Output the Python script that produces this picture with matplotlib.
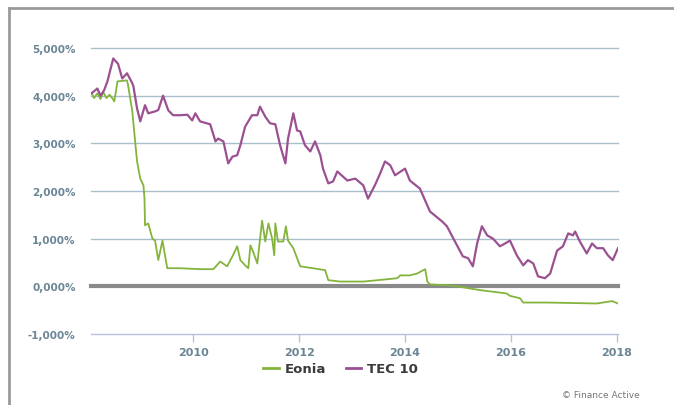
import matplotlib
matplotlib.use("Agg")
import matplotlib.pyplot as plt
from matplotlib.lines import Line2D

# decimal years / rate in %
tec_dates = [
    2008.08, 2008.19, 2008.25, 2008.32, 2008.38, 2008.49, 2008.58, 2008.66,
    2008.75, 2008.85, 2008.87, 2008.94, 2009.00, 2009.09, 2009.15, 2009.28,
    2009.34, 2009.43, 2009.53, 2009.62, 2009.75, 2009.89, 2009.98, 2010.04,
    2010.13, 2010.32, 2010.42, 2010.47, 2010.57, 2010.66, 2010.74, 2010.83,
    2010.89, 2010.98, 2011.11, 2011.21, 2011.26, 2011.36, 2011.45, 2011.55,
    2011.64, 2011.74, 2011.79, 2011.89, 2011.96, 2012.02, 2012.11, 2012.21,
    2012.30, 2012.40, 2012.45, 2012.55, 2012.64, 2012.72, 2012.91, 2013.06,
    2013.21, 2013.30, 2013.43, 2013.53, 2013.62, 2013.72, 2013.81, 2014.00,
    2014.09, 2014.28, 2014.47, 2014.70, 2014.79, 2014.98, 2015.09, 2015.19,
    2015.28, 2015.36, 2015.45, 2015.55, 2015.66, 2015.79, 2015.89, 2015.98,
    2016.11, 2016.23, 2016.32, 2016.42, 2016.51, 2016.64, 2016.74, 2016.87,
    2016.98, 2017.08, 2017.17, 2017.21, 2017.30, 2017.43, 2017.53, 2017.62,
    2017.74, 2017.83, 2017.92, 2018.02,
]
tec_values = [
    4.05, 4.15, 4.00, 4.12, 4.30, 4.78, 4.67, 4.36,
    4.47, 4.26, 4.20, 3.73, 3.46, 3.80, 3.63, 3.67,
    3.70, 4.00, 3.69, 3.59, 3.59, 3.60, 3.48, 3.63,
    3.46, 3.40, 3.04, 3.10, 3.04, 2.58, 2.72, 2.75,
    2.96, 3.35, 3.59, 3.59, 3.77, 3.56, 3.42, 3.40,
    2.96, 2.58, 3.10, 3.63, 3.27, 3.25, 2.96, 2.83,
    3.04, 2.75, 2.47, 2.16, 2.20, 2.41, 2.22, 2.26,
    2.12, 1.84, 2.12, 2.37, 2.62, 2.54, 2.33, 2.47,
    2.22, 2.05, 1.57, 1.36, 1.26, 0.86, 0.63, 0.59,
    0.42, 0.90, 1.26, 1.07, 1.00, 0.84, 0.90, 0.96,
    0.65, 0.44, 0.55, 0.48, 0.21, 0.17, 0.27, 0.75,
    0.84, 1.11, 1.07, 1.15, 0.94, 0.69, 0.90, 0.80,
    0.80, 0.65, 0.55, 0.80,
]

eonia_dates = [
    2008.08, 2008.13, 2008.19, 2008.25, 2008.30, 2008.36, 2008.42, 2008.47,
    2008.51, 2008.57, 2008.75, 2008.77, 2008.85, 2008.91, 2008.94, 2009.00,
    2009.06, 2009.08, 2009.09, 2009.15, 2009.23, 2009.28, 2009.34, 2009.42,
    2009.47, 2009.51, 2009.75, 2010.13, 2010.38, 2010.51, 2010.64, 2010.75,
    2010.83, 2010.89, 2010.98, 2011.04, 2011.08, 2011.13, 2011.21, 2011.30,
    2011.36, 2011.42, 2011.49, 2011.53, 2011.55, 2011.60, 2011.70, 2011.75,
    2011.79, 2011.89, 2012.02, 2012.26, 2012.49, 2012.55, 2012.77, 2013.21,
    2013.49, 2013.85, 2013.91, 2014.09, 2014.23, 2014.38, 2014.42, 2014.47,
    2014.85, 2015.09, 2015.42, 2015.92, 2015.98, 2016.17, 2016.23, 2016.68,
    2017.62, 2017.91, 2018.02,
]
eonia_values = [
    4.05, 3.95, 4.05, 3.93, 4.08, 3.95, 4.02, 3.95,
    3.88, 4.30, 4.32, 4.22, 3.67, 2.96, 2.62, 2.26,
    2.12, 1.84, 1.28, 1.32, 1.00, 0.96, 0.55, 0.96,
    0.63, 0.38, 0.38, 0.36, 0.36, 0.52, 0.42, 0.65,
    0.84, 0.55, 0.44, 0.38, 0.86, 0.73, 0.48, 1.38,
    0.94, 1.32, 1.00, 0.65, 1.32, 0.94, 0.94, 1.26,
    0.96, 0.80, 0.42, 0.38, 0.34, 0.13, 0.10, 0.10,
    0.13, 0.17, 0.23, 0.23, 0.27, 0.36, 0.10, 0.04,
    0.02, -0.02, -0.08, -0.15, -0.20, -0.25, -0.34, -0.34,
    -0.36, -0.31, -0.36,
]

y_ticks = [-1, 0, 1, 2, 3, 4, 5]
y_labels = ["-1,000%", "0,000%", "1,000%", "2,000%", "3,000%", "4,000%", "5,000%"]
x_ticks = [2010, 2012, 2014, 2016, 2018]

TEC_COLOR = "#9b5191"
EONIA_COLOR = "#84b43c"
GRID_COLOR = "#a9bfcc"
LABEL_COLOR = "#6a8595"

fig = plt.figure(figsize=(6.74, 4.06), dpi=100)
ax = fig.add_axes([91 / 674, 1 - 335 / 406, (618 - 91) / 674, (335 - 49) / 406])

for t in y_ticks:
    if t == 0:
        continue
    color = "#b8c2de" if t == -1 else GRID_COLOR
    ax.axhline(t, color=color, lw=1.0, clip_on=False, zorder=1)
ax.axhline(0, color="#8a8a8a", lw=3.0, clip_on=False, zorder=1)

ax.plot(eonia_dates, eonia_values, color=EONIA_COLOR, lw=1.3, zorder=3)
ax.plot(tec_dates, tec_values, color=TEC_COLOR, lw=1.6, zorder=4)

ax.set_xlim(2008.07, 2018.02)
ax.set_ylim(-1, 5)
for s in ax.spines.values():
    s.set_visible(False)

ax.set_yticks(y_ticks)
ax.set_yticklabels(y_labels)
ax.tick_params(axis="y", length=0, pad=11, labelsize=7.5, labelcolor=LABEL_COLOR)
ax.set_xticks(x_ticks)
ax.set_xticklabels([str(x) for x in x_ticks])
ax.tick_params(axis="x", length=6, width=1.0, color="#b8c2de", pad=3,
               labelsize=8, labelcolor=LABEL_COLOR)
for lab in ax.get_xticklabels() + ax.get_yticklabels():
    lab.set_fontweight("bold")

handles = [
    Line2D([], [], color=EONIA_COLOR, lw=2),
    Line2D([], [], color=TEC_COLOR, lw=2),
]
fig.legend(handles, ["Eonia", "TEC 10"], loc="center", ncol=2,
           bbox_to_anchor=(0.505, 1 - 370 / 406), frameon=False,
           handlelength=1.2, handletextpad=0.4, columnspacing=1.5,
           prop={"size": 9.5, "weight": "bold"}, labelcolor="#3a3a3a")

fig.text(640 / 674, 1 - 396 / 406, "\u00a9 Finance Active", ha="right", va="center",
         fontsize=6.5, color="#777777")

# outer frame (top and left edges)
fig.add_artist(Line2D([9 / 674, 1.0], [1 - 9 / 406, 1 - 9 / 406],
                      color="#9a9a9a", lw=2, transform=fig.transFigure))
fig.add_artist(Line2D([9 / 674, 9 / 674], [0.0, 1 - 9 / 406],
                      color="#9a9a9a", lw=2, transform=fig.transFigure))

fig.savefig("out.png", dpi=100)
